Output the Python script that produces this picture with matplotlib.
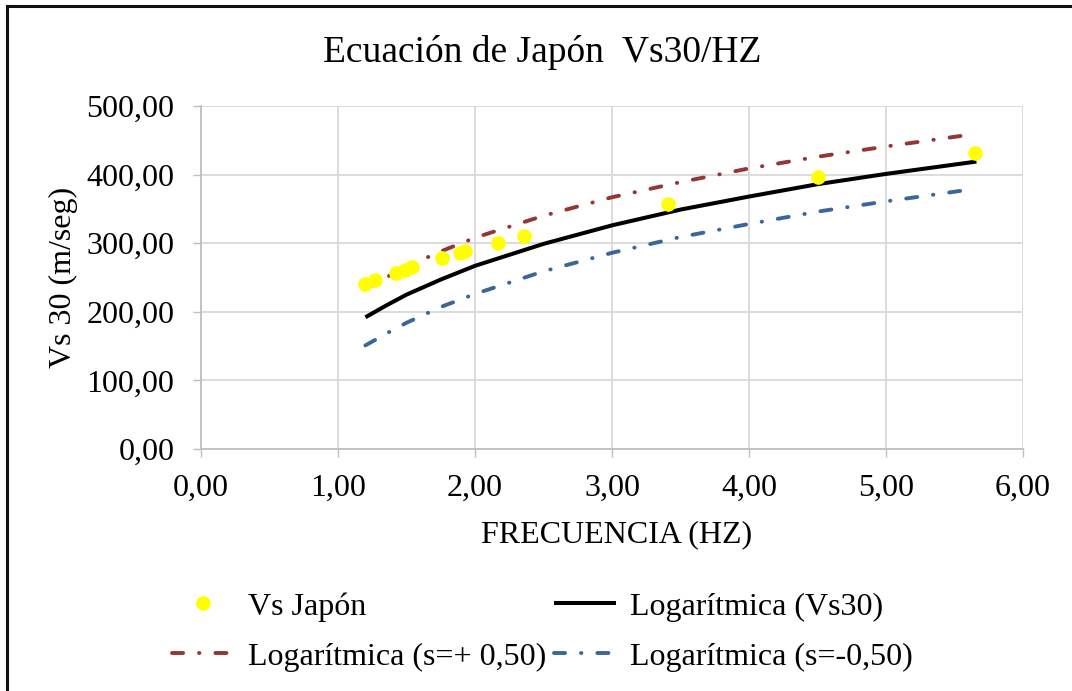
import matplotlib
matplotlib.use("Agg")
import matplotlib.pyplot as plt
from matplotlib.lines import Line2D

# puntos medidos: frecuencia (Hz) y Vs30 (m/seg)
frecuencia = [1.20, 1.27, 1.42, 1.49, 1.54, 1.76, 1.89, 1.93, 2.17, 2.36, 3.41, 4.50, 5.65]
vs_japon = [240, 246, 256, 261, 265, 278, 285, 288, 301, 310, 357, 397, 432]

# curvas logaritmicas (valores leidos sobre cada curva)
x_vs30 = [1.20, 1.35, 1.50, 1.75, 2.00, 2.50, 3.00, 3.50, 4.00, 4.50, 5.00, 5.66]
y_vs30 = [192, 209, 225, 247, 267, 299, 326, 349, 368, 386, 401, 419]

x_sigma = [1.20, 1.35, 1.50, 1.75, 2.00, 2.50, 3.00, 3.50, 4.00, 4.50, 5.00, 5.57]
y_mas = [233, 250, 266, 288, 308, 340, 367, 389, 409, 426, 441, 457]
y_menos = [151, 168, 184, 207, 226, 259, 286, 309, 328, 346, 361, 377]

xticks = [0, 1, 2, 3, 4, 5, 6]
yticks = [0, 100, 200, 300, 400, 500]

plt.rcParams['font.family'] = ['Liberation Serif', 'DejaVu Serif']

gris_eje = '#bfbfbf'
gris_grid = '#d9d9d9'
rojo = '#943634'
azul = '#3a6699'

W, H = 1072, 691
fig = plt.figure(figsize=(W / 100, H / 100), dpi=100)
ax = fig.add_axes([201 / W, 1 - 449 / H, 822 / W, 343 / H])

# raya-punto: raya ~15 px, hueco ~12 px, punto
patron = (2.85, 4.1, 0.1, 4.1)
l_mas, = ax.plot(x_sigma, y_mas, color=rojo, lw=2.8, dash_capstyle='round',
                 dashes=patron, label='Logarítmica (s=+ 0,50)', zorder=3)
l_menos, = ax.plot(x_sigma, y_menos, color=azul, lw=2.8, dash_capstyle='round',
                   dashes=patron, label='Logarítmica (s=-0,50)', zorder=3)
l_vs30, = ax.plot(x_vs30, y_vs30, color='black', lw=2.9, solid_capstyle='butt',
                  label='Logarítmica (Vs30)', zorder=4)
puntos, = ax.plot(frecuencia, vs_japon, linestyle='none', marker='o', ms=9.5,
                  mfc='#ffff00', mec='#ffff00', label='Vs Japón', zorder=5)

ax.set_xlim(0, 6)
ax.set_ylim(0, 500)
ax.set_xticks(xticks)
ax.set_yticks(yticks)
ax.set_xticklabels([f'{v:.2f}'.replace('.', ',') for v in xticks])
ax.set_yticklabels([f'{v:.2f}'.replace('.', ',') for v in yticks])
ax.tick_params(axis='both', labelsize=23, length=6, width=1, color=gris_eje, direction='out')
ax.tick_params(axis='x', pad=12)
ax.tick_params(axis='y', pad=13)

ax.grid(True, color=gris_grid, lw=1.3, zorder=0)
ax.set_axisbelow(True)
for lado in ['top', 'right']:
    ax.spines[lado].set_visible(False)
for lado in ['left', 'bottom']:
    ax.spines[lado].set_color(gris_eje)
    ax.spines[lado].set_linewidth(1.3)

fig.text(542 / W, 1 - 62 / H, 'Ecuación de Japón  Vs30/HZ', fontsize=27,
         ha='center', va='baseline')

ax.set_xlabel('FRECUENCIA (HZ)', fontsize=23)
ax.xaxis.label.set_verticalalignment('baseline')
ax.xaxis.set_label_coords((617 - 201) / 822, (449 - 542) / 343)
ax.set_ylabel('Vs 30 (m/seg)', fontsize=23)
ax.yaxis.set_label_coords((78 - 201) / 822, (449 - 277) / 343)

fig.legend(handles=[puntos, l_mas, l_vs30, l_menos], ncol=2, fontsize=23,
           loc='upper left', bbox_to_anchor=(172 / W, 1 - 592 / H),
           frameon=False, handlelength=1.92, handletextpad=0.46,
           columnspacing=0.25, labelspacing=0.65, borderpad=0, borderaxespad=0)

# marco del grafico (solo lados superior e izquierdo)
fig.add_artist(Line2D([7 / W, 7 / W], [0, 1 - 6 / H], color='#111111', lw=2.2,
                      transform=fig.transFigure))
fig.add_artist(Line2D([7 / W, 1], [1 - 6 / H, 1 - 6 / H], color='#111111', lw=2.2,
                      transform=fig.transFigure))

fig.savefig('out.png', dpi=100)
